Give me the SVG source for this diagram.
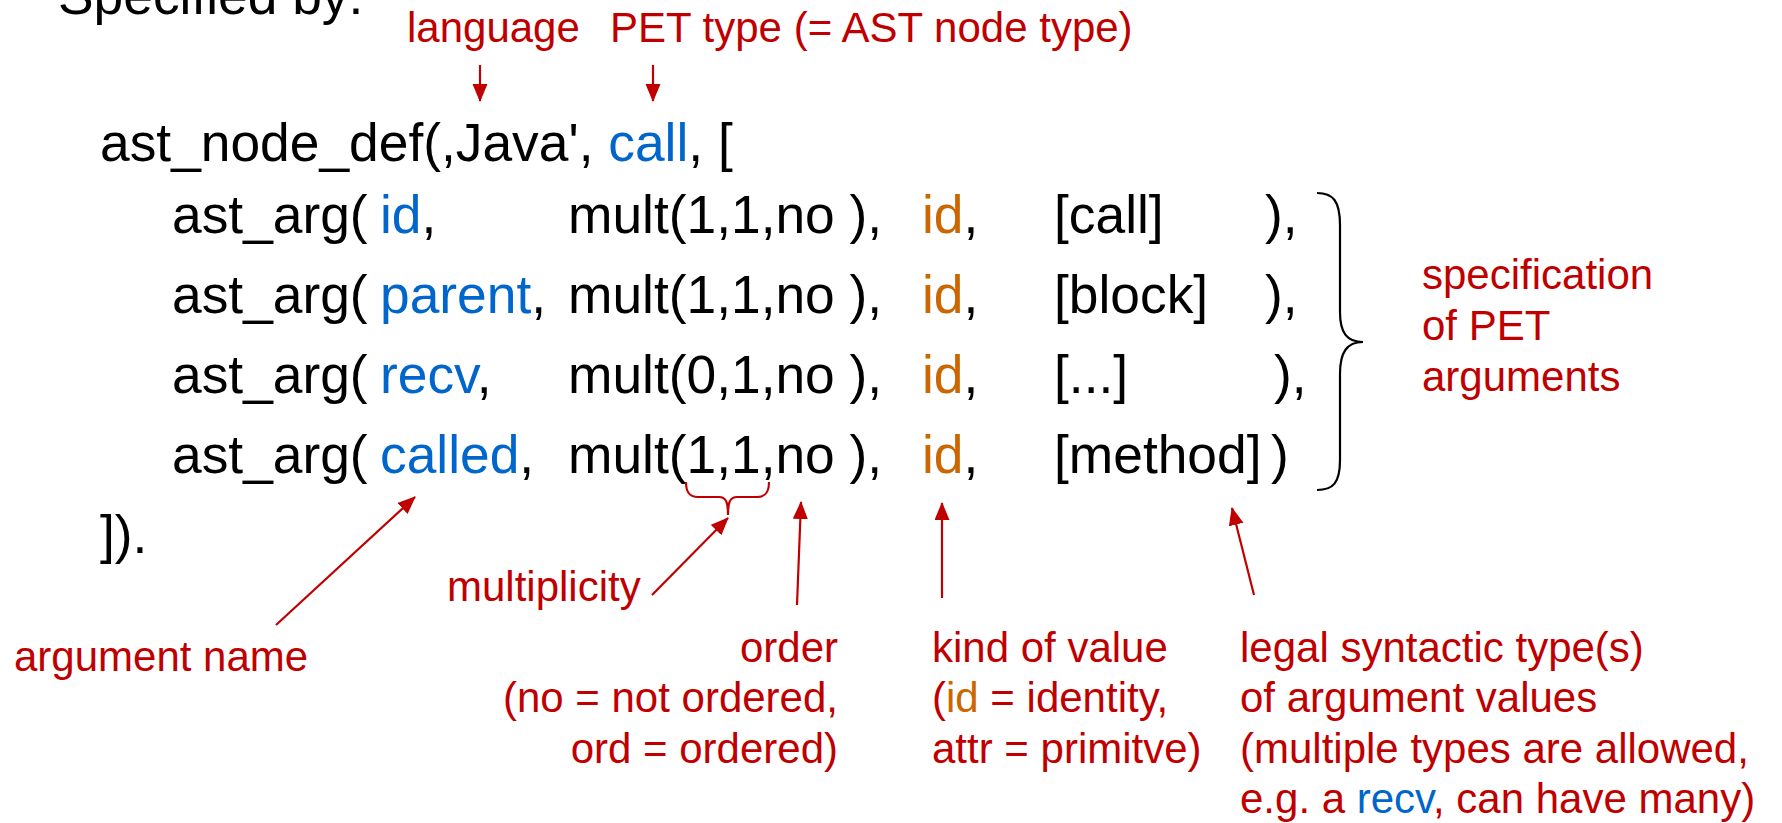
<svg xmlns="http://www.w3.org/2000/svg" width="1782" height="823" viewBox="0 0 1782 823">
<style>
text{font-family:"Liberation Sans",Arial,sans-serif;}
.code{font-size:53.33px;fill:#000;}
.lbl{font-size:42px;fill:#C00000;}
.b{fill:#0066CC;}
.o{fill:#CC6600;}
.arr{stroke:#C00000;stroke-width:2.2;fill:none;marker-end:url(#ah);}
.br{fill:none;stroke-width:2.2;}
</style>
<defs>
<marker id="ah" markerUnits="userSpaceOnUse" markerWidth="19" markerHeight="16" refX="17" refY="7.5" orient="auto">
<path d="M0,0 L18,7.5 L0,15 z" fill="#C00000"/>
</marker>
</defs>
<rect width="1782" height="823" fill="#fff"/>
<g id="title"><text class="code" x="58" y="14">Specified by:</text></g>
<g id="code">
<text class="code" x="100" y="161">ast_node_def(,Java', <tspan class="b">call</tspan>, [</text>
<g id="row1">
<text class="code" x="172" y="233">ast_arg(</text>
<text class="code" x="380" y="233"><tspan class="b">id</tspan>,</text>
<text class="code" x="568" y="233">mult(1,1,no ),</text>
<text class="code" x="922" y="233"><tspan class="o">id</tspan>,</text>
<text class="code" x="1054" y="233">[call]</text>
<text class="code" x="1265" y="233">),</text>
</g>
<g id="row2">
<text class="code" x="172" y="313">ast_arg(</text>
<text class="code" x="380" y="313"><tspan class="b">parent</tspan>,</text>
<text class="code" x="568" y="313">mult(1,1,no ),</text>
<text class="code" x="922" y="313"><tspan class="o">id</tspan>,</text>
<text class="code" x="1054" y="313">[block]</text>
<text class="code" x="1265" y="313">),</text>
</g>
<g id="row3">
<text class="code" x="172" y="393">ast_arg(</text>
<text class="code" x="380" y="393"><tspan class="b">recv</tspan>,</text>
<text class="code" x="568" y="393">mult(0,1,no ),</text>
<text class="code" x="922" y="393"><tspan class="o">id</tspan>,</text>
<text class="code" x="1054" y="393">[...]</text>
<text class="code" x="1274" y="393">),</text>
</g>
<g id="row4">
<text class="code" x="172" y="473">ast_arg(</text>
<text class="code" x="380" y="473"><tspan class="b">called</tspan>,</text>
<text class="code" x="568" y="473">mult(1,1,no ),</text>
<text class="code" x="922" y="473"><tspan class="o">id</tspan>,</text>
<text class="code" x="1054" y="473">[method]</text>
<text class="code" x="1271" y="473">)</text>
</g>
<text class="code" x="100" y="553">]).</text>
</g>
<g id="braces">
<path class="br" stroke="#000" d="M1317,193 C1333,193 1340,201 1340,225 L1340,312 C1340,333 1347,342 1363,342 C1347,342 1340,352 1340,374 L1340,460 C1340,483 1333,490 1317,490"/>
<path class="br" stroke="#C00000" d="M686,482 C686,493 690,497 698,497 L719,497 C726,497 728,502 728,515 C728,502 730,497 737,497 L757,497 C765,497 769,493 769,482"/>
</g>
<g id="labels">
<text class="lbl" x="407" y="42">language</text>
<text class="lbl" x="610" y="42">PET type (= AST node type)</text>
<text class="lbl" x="1422" y="289">specification</text>
<text class="lbl" x="1422" y="340">of PET</text>
<text class="lbl" x="1422" y="391">arguments</text>
<text class="lbl" x="447" y="601">multiplicity</text>
<text class="lbl" x="14" y="671">argument name</text>
<text class="lbl" text-anchor="end" x="838" y="662">order</text>
<text class="lbl" text-anchor="end" x="838" y="712">(no = not ordered,</text>
<text class="lbl" text-anchor="end" x="838" y="763">ord = ordered)</text>
<text class="lbl" x="932" y="662">kind of value</text>
<text class="lbl" x="932" y="712">(<tspan class="o">id</tspan> = identity,</text>
<text class="lbl" x="932" y="763">attr = primitve)</text>
<text class="lbl" x="1240" y="662">legal syntactic type(s)</text>
<text class="lbl" x="1240" y="712">of argument values</text>
<text class="lbl" x="1240" y="763">(multiple types are allowed,</text>
<text class="lbl" x="1240" y="813">e.g. a <tspan class="b">recv</tspan>, can have many)</text>
</g>
<g id="connectors">
<line class="arr" x1="480" y1="65" x2="480" y2="101"/>
<line class="arr" x1="653" y1="65" x2="653" y2="101"/>
<line class="arr" x1="276" y1="625" x2="415" y2="497"/>
<line class="arr" x1="652" y1="595" x2="728" y2="518"/>
<line class="arr" x1="797" y1="605" x2="801" y2="502"/>
<line class="arr" x1="942" y1="598" x2="942" y2="503"/>
<line class="arr" x1="1254" y1="595" x2="1232" y2="508"/>
</g>
</svg>
